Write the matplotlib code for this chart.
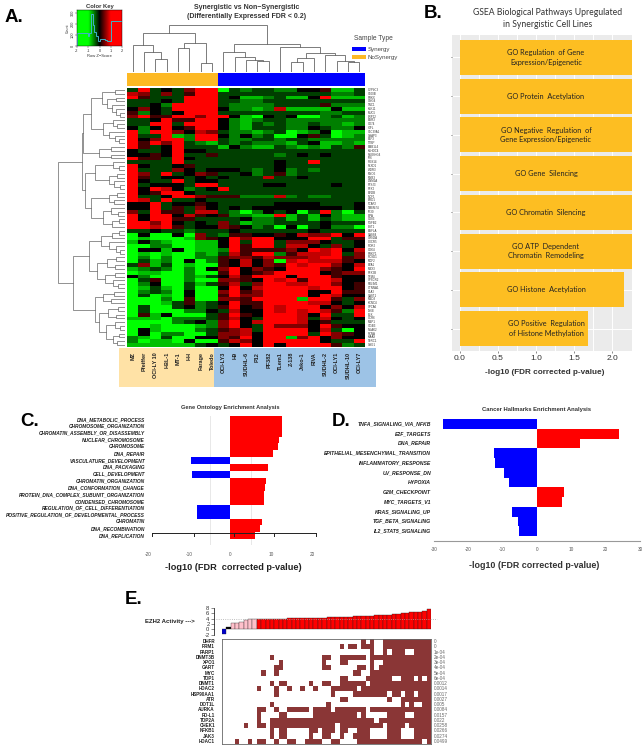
import numpy as np
import matplotlib
matplotlib.use("Agg")
import matplotlib.pyplot as plt
from matplotlib.colors import LinearSegmentedColormap, ListedColormap

matplotlib.rcParams.update({
    "font.family": ["Liberation Sans", "DejaVu Sans"],
    "font.size": 5,
    "axes.unicode_minus": False,
})

W, H = 644, 750

# --- panel A: heatmap, digits 0 (bright green) .. 4 (black) .. 8 (bright red)
hm_rows = [
    "38343688 0323322445113", "76363588 3333333333223", "85333888 3411231148111",
    "33343888 3322333333333", "33428888 3222233335222", "46438888 4221271111411",
    "52434888 3333333332233", "68558868 8410434002312", "33485588 4212332222222",
    "33883888 4213232232212", "42484588 4213332243224", "82886476 3221230124011",
    "83381288 4242300453012", "84688288 3223323322222", "85868321 3232221341121",
    "85348333 1421132121325", "43348443 3333333333333", "44548335 3333323434333",
    "85538433 3333333333333", "33338333 3333343383333", "84334533 3333343333333",
    "83336434 4432342323333", "86383465 3342352333333", "85344343 4333733433333",
    "84338344 3333333333333", "83444388 3333443333433", "84874234 8333333333333",
    "84588433 3333333333333", "83348865 5522272322333", "87383343 3333333333333",
    "44834454 3333344443334", "44835364 3434444444434", "63855377 3202434038203",
    "84884754 5221181314211", "84885533 3342231313211", "88684343 6312233334333",
    "88785344 6542304034220", "33433233 3433333343333",
    "04004063 2554454766848", "01000165 4868844488355", "14210011 4838836664334",
    "00220011 4858837743634", "04414011 2855556487847", "01010021 3758825777836",
    "02020022 5665766678856", "03120402 5474607877754", "36130100 5474658788647",
    "12320204 6846548886548", "01100200 5845688884566", "42000213 4758884888544",
    "03500200 6654878588744", "02400313 5736887788645", "01310300 4847888878845",
    "02320400 6856888844855", "03010400 5866888848744", "00020500 6658888188536",
    "00013523 4855888877434", "03003423 5845878884647", "03000224 3744878787528",
    "05140003 5854888748338", "11102223 5743888737434", "00002342 6847888745333",
    "00100012 6843866648544", "04100023 5673888847304", "04022003 6674888838654",
    "21030044 6584881684644", "20110400 5764888884338", "11111134 3484848888523",
]
gene_labels = [
    "CYP4C3", "S100B", "PRKX", "GNG4", "TNC1", "KLK11", "MUC5", "LRP12", "EGR3", "CD74",
    "IGFL", "SLC39A1", "GSAP3", "ELF3", "TTBP", "EMB1L4", "KLHDC4", "PLEKHG4", "IFI6", "RGS14",
    "PLXD1", "WDR3", "MYO5", "MYB3", "DNM1A", "FTSJ3", "PTK2", "EVI2B", "NCF1", "BRD1",
    "TCAF2", "TMEM74", "IFI30", "LIPA", "CD83", "TGFB2", "BST1", "EGFLA", "CASS4", "GRN2A",
    "CXCR5", "ROR2", "CDK4", "PRKY1", "RCSD1", "MCF2", "EYA1", "MEX3", "PTK2B", "TPM4",
    "SPSCR2", "PDLIM1", "CTNNA1", "SLA2", "CAST1", "MBD3", "KCNC4", "SPCA6", "LY6E", "BLK",
    "CCR6", "MBP1", "ITGB3", "NUAK2", "PCNA", "KIAA9", "TERC1", "GSG1",
]
nosyn_lines = ["MZ", "Pfeiffer", "OCI-LY 10", "HBL-1", "MT-1", "HH", "Farage", "Toledo"]
syn_lines = ["OCI-LY3", "H9", "SUDHL-6", "P12", "PF382", "TLem1", "Z-138", "Jeko-1", "RIVA",
             "SUDHL-2", "OCI-LY1", "SUDHL-10", "OCI-LY7"]

# dendrograms: (height, child, child), a leaf is 0
col_tree = (47,
            (39, (27, 0, (20, 0, (13, 0, 0))),
             (29, (24, 0, 0), (9, 0, 0))),
            (28, (20, 0, (15, 0, (12, 0, (11, 0, 0)))),
             (25, 0, (19, (14, (10, 0, 0), 0), (17, 0, (11, 0, (10, 0, 0)))))))
row_a = (23, (10, 0, 0), (18, (9, 0, 0), (13, 0, (9, 0, (5, 0, 0)))))
row_b = (22, (12, 0, (8, 0, 0)), (16, 0, (10, 0, (6, 0, 0))))
row_c = (26, (14, 0, 0), (14, 0, 0))
row_e = (30, (12, 0, (6, 0, 0)), (16, (8, 0, 0), (11, 0, (5, 0, 0))))
row_f = (34, (16, (8, 0, 0), (11, 0, 0)), (22, (14, 0, (7, 0, 0)), (13, (6, 0, 0), 0)))
row_g = (36, (24, (13, (6, 0, 0), 0), (16, 0, (9, 0, (5, 0, 0)))),
         (28, (18, (9, 0, 0), (10, 0, 0)), (20, (10, 0, 0), (12, 0, (7, 0, 0)))))
row_h = (30, (22, (11, 0, 0), (14, 0, 0)),
         (26, (17, (7, 0, 0), (9, 0, 0)), (19, (10, 0, (5, 0, 0)), (12, (6, 0, 0), (8, 0, 0)))))
row_tree = (67, (43, (42, (34, row_a, row_b), row_c), (40, row_e, row_f)), (52, row_g, row_h))

# colour key histogram
key_edges = [-2.0, -1.05, -0.95, -0.8, -0.72, -0.55, -0.45, -0.3, -0.15, 0.0, 0.25, 0.5, 0.7, 1.0, 2.0]
key_counts = [117, 95, 117, 290, 290, 190, 130, 90, 50, 60, 65, 55, 45, 230]

# --- panel B
gsea_terms = ["GO Regulation  of Gene\nExpression/Epigenetic", "GO Protein  Acetylation",
              "GO Negative  Regulation  of\nGene Expression/Epigenetic", "GO Gene  Silencing",
              "GO Chromatin  Silencing", "GO ATP  Dependent\nChromatin  Remodeling",
              "GO Histone  Acetylation", "GO Positive  Regulation\nof Histone Methylation"]
gsea_vals = [2.26, 2.26, 2.26, 2.26, 2.26, 2.26, 2.16, 1.68]

# --- panel C
go_terms = ["DNA_METABOLIC_PROCESS", "CHROMOSOME_ORGANIZATION", "CHROMATIN_ASSEMBLY_OR_DISASSEMBLY",
            "NUCLEAR_CHROMOSOME", "CHROMOSOME", "DNA_REPAIR", "VASCULATURE_DEVELOPMENT", "DNA_PACKAGING",
            "CELL_DEVELOPMENT", "CHROMATIN_ORGANIZATION", "DNA_CONFORMATION_CHANGE",
            "PROTEIN_DNA_COMPLEX_SUBUNIT_ORGANIZATION", "CONDENSED_CHROMOSOME",
            "REGULATION_OF_CELL_DIFFERENTIATION", "POSITIVE_REGULATION_OF_DEVELOPMENTAL_PROCESS",
            "CHROMATIN", "DNA_RECOMBINATION", "DNA_REPLICATION"]
go_vals = [12.8, 12.7, 12.6, 12.0, 11.6, 10.4, -9.4, 9.3, -9.2, 8.7, 8.5, 8.4, 8.4, -8.0, -8.0, 7.8, 7.4, 6.0]
go_stray_ticks = [-19, -8.9, 1.06, 10.8, 21]

# --- panel D
hallmark_terms = ["TNFA_SIGNALING_VIA_NFKB", "E2F_TARGETS", "DNA_REPAIR", "EPITHELIAL_MESENCHYMAL_TRANSITION",
                  "INFLAMMATORY_RESPONSE", "UV_RESPONSE_DN", "HYPOXIA", "G2M_CHECKPOINT", "MYC_TARGETS_V1",
                  "KRAS_SIGNALING_UP", "TGF_BETA_SIGNALING", "IL2_STAT5_SIGNALING"]
hallmark_vals = [-27.5, 24.0, 12.5, -12.6, -12.2, -9.5, -8.3, 7.8, 7.2, -7.3, -5.6, -5.2]

# --- panel E
ezh2_vals = [-1.8, 1.0, 2.2, 2.3, 2.9, 3.6, 3.8, 3.8,
             3.9, 3.9, 3.9, 4.0, 4.0, 4.0, 4.0, 4.1, 4.1, 4.1, 4.1, 4.2, 4.2, 4.2, 4.3, 4.3,
             4.4, 4.4, 4.5, 4.5, 4.6, 4.7, 4.8, 4.8, 4.9, 5.0, 5.1, 5.2, 5.3, 5.4, 5.5, 5.6,
             5.7, 5.9, 6.2, 6.3, 6.4, 6.6, 7.0, 7.4]
ezh2_colors = ["#0000CC", "#000000"] + ["#FFC0CB"] * 6 + ["#FF0000"] * 40
drug_genes = ["DHFR", "RRM1", "PARP1", "DNMT3B", "XPO1", "GART", "MYC", "TOP1", "DNMT1", "HDAC2", "HSP90AA1",
              "ATR", "DOT1L", "AURKA", "PD-L1", "TOP2A", "CHEK1", "NFKB1", "JAK3", "HDAC1"]
drug_pvals = ["0", "0", "1e-04", "2e-04", "3e-04", "4e-04", "5e-04", "6e-04", "0.0012", "0.0014", "0.0017",
              "0.0027", "0.005", "0.0084", "0.0157", "0.022", "0.0258", "0.0266", "0.0274", "0.0499"]
# filled column ranges per gene row
drug_cells = [
    [(32, 32), (34, 34), (37, 47)],
    [(27, 27), (29, 30), (32, 34), (37, 47)],
    [(34, 34), (37, 37), (39, 41), (44, 47)],
    [(11, 11), (23, 24), (27, 32), (34, 47)],
    [(13, 13), (23, 23), (27, 28), (34, 34), (37, 47)],
    [(12, 13), (23, 24), (31, 32), (34, 34), (36, 47)],
    [(9, 9), (12, 12), (30, 31), (34, 47)],
    [(27, 28), (33, 38), (41, 43), (45, 45), (47, 47)],
    [(11, 11), (13, 14), (20, 20), (23, 24), (27, 32), (34, 47)],
    [(8, 8), (12, 12), (15, 15), (18, 18), (21, 21), (25, 30), (32, 47)],
    [(12, 12), (25, 25), (30, 37), (39, 40), (42, 43), (45, 47)],
    [(27, 28), (38, 38), (41, 47)],
    [(11, 11), (24, 24), (41, 41), (43, 43), (46, 47)],
    [(8, 9), (12, 12), (15, 19), (21, 24), (26, 32), (34, 47)],
    [(8, 8), (13, 14), (21, 30), (32, 32), (38, 41), (44, 47)],
    [(8, 8), (11, 34), (36, 47)],
    [(5, 5), (8, 9), (11, 25), (27, 36), (38, 41), (43, 47)],
    [(11, 11), (13, 14), (20, 21), (23, 25), (27, 28), (31, 33), (38, 40), (44, 47)],
    [(11, 11), (13, 14), (20, 20), (23, 24), (27, 27), (30, 33), (38, 40), (44, 47)],
    [(3, 3), (6, 6), (8, 9), (12, 12), (15, 16), (19, 22), (25, 26), (31, 45), (47, 47)],
]


def px_axes(l, t, r, b):
    return fig.add_axes([l / W, 1 - b / H, (r - l) / W, (b - t) / H])


def draw_tree(ax, node, leaf, vertical):
    # leaf is a one-item list used as a running leaf counter
    if node == 0:
        leaf[0] += 1
        return leaf[0] - 0.5, 0
    h, a, b = node
    pa, ha = draw_tree(ax, a, leaf, vertical)
    pb, hb = draw_tree(ax, b, leaf, vertical)
    xs, ys = [pa, pa, pb, pb], [ha, h, h, hb]
    if vertical:
        ax.plot(xs, ys, color="#666666", lw=0.6, solid_joinstyle="miter")
    else:
        ax.plot(ys, xs, color="#666666", lw=0.5, solid_joinstyle="miter")
    return (pa + pb) / 2, h


fig = plt.figure(figsize=(W / 100, H / 100), dpi=100, facecolor="white")

# page overlay in pixel coordinates, for backgrounds and loose text
pg = fig.add_axes([0, 0, 1, 1], zorder=0)
pg.set_xlim(0, W)
pg.set_ylim(H, 0)
pg.axis("off")

for letter, lx, ly in [("A.", 5, 17), ("B.", 424, 14), ("C.", 20, 421), ("D.", 332, 421), ("E.", 125, 599)]:
    pg.text(lx, ly, letter, fontsize=13.5, fontweight="bold", va="center", color="black",
            family=["Liberation Sans"])

# --- A
grid = np.array([[int(c) for c in row.replace(" ", "")] for row in hm_rows])
gr_cmap = LinearSegmentedColormap.from_list("gkr", ["#00FF00", "#000000", "#FF0000"])
ax = px_axes(127, 88, 365, 347)
ax.imshow((grid - 4) / 4.0, cmap=gr_cmap, vmin=-1, vmax=1, aspect="auto", interpolation="nearest")
ax.axis("off")

ax = px_axes(127, 73, 365, 86)
ax.imshow([[0] * len(nosyn_lines) + [1] * len(syn_lines)], cmap=ListedColormap(["#FDB924", "#0000FF"]),
          aspect="auto", interpolation="nearest")
ax.axis("off")

ax = px_axes(127, 22, 365, 72)
draw_tree(ax, col_tree, [0], True)
ax.set_xlim(0, grid.shape[1])
ax.set_ylim(0, 50)
ax.axis("off")

ax = px_axes(58, 88, 125, 347)
draw_tree(ax, row_tree, [0], False)
ax.set_xlim(67, 0)
ax.set_ylim(grid.shape[0], 0)
ax.axis("off")

row_h_px = 259 / len(gene_labels)
for i, g in enumerate(gene_labels):
    pg.text(368, 88 + (i + 0.5) * row_h_px, g, fontsize=2.1, va="center", color="#333333")

pg.fill_between([119, 214], 348, 387, color="#FFE2A6", lw=0)
pg.fill_between([214, 376], 348, 387, color="#9DC3E6", lw=0)
col_w = 238 / grid.shape[1]
for i, name in enumerate(nosyn_lines + syn_lines):
    pg.text(127 + (i + 0.5) * col_w, 352, name, rotation=90, fontsize=4, fontweight="bold",
            ha="center", va="top", color="#222222")

pg.text(247, 12, "Synergistic vs Non\u2212Synergistic\n(Differentially Expressed FDR < 0.2)",
        fontsize=5.0, fontweight="bold", ha="center", va="center", color="#333333", linespacing=1.25)
pg.text(373, 39, "Sample Type", fontsize=4.8, ha="center", va="center", color="#444444")
pg.fill_between([352, 366], 47, 51, color="#0000FF", lw=0)
pg.fill_between([352, 366], 55, 59, color="#FDB924", lw=0)
pg.text(368, 49, "Synergy", fontsize=4.4, va="center", color="#444444")
pg.text(368, 57, "NoSynergy", fontsize=4.4, va="center", color="#444444")

# colour key
ax = px_axes(77, 10, 122, 46)
ax.imshow(np.linspace(-1, 1, 200).reshape(1, -1) * 2, cmap=gr_cmap, vmin=-1, vmax=1, aspect="auto",
          extent=[-2, 2, 0, 330], interpolation="bilinear")
ax.stairs(key_counts, key_edges, color="#3FB3C8", lw=0.7)
ax.set_xlim(-2, 2)
ax.set_ylim(0, 330)
ax.set_xticks([-2, -1, 0, 1, 2])
ax.set_yticks([0, 100, 200, 300])
ax.tick_params(labelsize=2.8, length=1.2, width=0.3, pad=0.6, colors="#333333")
plt.setp(ax.get_yticklabels(), rotation=90, va="center")
for s in ax.spines.values():
    s.set_linewidth(0.3)
ax.set_xlabel("Row Z\u2212Score", fontsize=3, labelpad=0.8, color="#333333")
ax.set_ylabel("Count", fontsize=2.6, labelpad=0.8, color="#333333")
ax.set_title("Color Key", fontsize=4.2, fontweight="bold", pad=1.6, color="#333333")

# --- B
ax = px_axes(452, 35, 632, 351)
ax.set_facecolor("#EBEBEB")
yb = np.arange(len(gsea_vals))
ax.barh(yb, gsea_vals, height=0.9, color="#FDBE22", zorder=3)
ax.set_xlim(-0.105, 2.26)
ax.set_ylim(len(gsea_vals) - 0.42, -0.58)
ax.set_xticks([0, 0.5, 1.0, 1.5, 2.0])
ax.set_xticklabels(["0.0", "0.5", "1.0", "1.5", "2.0"])
ax.set_xticks([0.25, 0.75, 1.25, 1.75], minor=True)
ax.set_yticks(yb)
ax.set_yticklabels([])
ax.grid(True, which="both", color="white", lw=0.7, zorder=1)
ax.tick_params(axis="x", which="major", labelsize=6, length=1.2, width=0.4, pad=1.5, colors="#333333")
ax.tick_params(axis="x", which="minor", length=0)
ax.tick_params(axis="y", length=1, width=0.4)
for s in ax.spines.values():
    s.set_visible(False)
for i, term in enumerate(gsea_terms):
    ax.text(1.13, i, term, ha="center", va="center", fontsize=5.3, color="#222222", zorder=4,
            family=["Lato"], linespacing=1.45)
pg.text(548, 18.5, "GSEA Biological Pathways Upregulated\nin Synergistic Cell Lines", fontsize=6.2,
        ha="center", va="center", color="#333333", family=["Lato"], linespacing=1.35)
pg.text(545, 373, "-log10 (FDR corrected p-value)", fontsize=5.9, fontweight="bold", ha="center",
        va="center", color="#333333")

# --- C
ax = px_axes(148, 416, 312, 545)
row_c_h = 123 / len(go_vals)
ax.barh(np.arange(len(go_vals)), go_vals, height=1.0, zorder=2,
        color=["#FF0000" if v > 0 else "#0000FF" for v in go_vals])
ax.set_xlim(-20, 20)
ax.set_ylim(129 / row_c_h - 0.5, -0.5)
ax.set_xticks([-20, -10, 0, 10, 20])
ax.set_xticks([-5, 5], minor=True)
ax.grid(True, axis="x", which="minor", color="#E8E8E8", lw=0.7, zorder=1)
ax.tick_params(axis="x", which="minor", length=0)
ax.tick_params(axis="x", which="major", labelsize=3.4, length=0, pad=5, colors="#555555")
ax.set_yticks([])
for s in ax.spines.values():
    s.set_visible(False)
ax.plot([go_stray_ticks[0], go_stray_ticks[-1]], [16.55, 16.55], color="#222222", lw=0.7, zorder=4, clip_on=False)
for t in go_stray_ticks:
    ax.plot([t, t], [16.55, 17.1], color="#222222", lw=0.7, zorder=4, clip_on=False)
for i, term in enumerate(go_terms):
    pg.text(145, 416 + (i + 0.5) * row_c_h, term, ha="right", va="center", fontsize=3.55,
            fontweight="bold", style="italic", color="#222222")
pg.text(230, 407, "Gene Ontology Enrichment Analysis", fontsize=4.1, fontweight="bold", ha="center",
        va="center", color="#333333")
pg.text(233, 567, "-log10 (FDR  corrected p-value)", fontsize=6.6, fontweight="bold", ha="center",
        va="center", color="#222222")

# --- D
ax = px_axes(434, 419, 640, 541)
ax.barh(np.arange(len(hallmark_vals)), hallmark_vals, height=1.0, zorder=2,
        color=["#FF0000" if v > 0 else "#0000FF" for v in hallmark_vals])
ax.set_xlim(-30, 30)
row_d_h = 117 / len(hallmark_vals)
ax.set_ylim(122 / row_d_h - 0.5, -0.5)
ax.set_xticks([-30, -20, -10, 0, 10, 20, 30])
ax.tick_params(axis="x", labelsize=3.4, length=0, pad=4.5, colors="#555555")
ax.set_yticks([])
for side in ["top", "left", "right"]:
    ax.spines[side].set_visible(False)
ax.spines["bottom"].set_color("#999999")
ax.spines["bottom"].set_linewidth(0.8)
for i, term in enumerate(hallmark_terms):
    pg.text(431, 419 + (i + 0.5) * row_d_h, term, ha="right", va="center", fontsize=3.7,
            fontweight="bold", style="italic", color="#222222")
pg.text(537, 410, "Cancer Hallmarks Enrichment Analysis", fontsize=4.2, fontweight="bold", ha="center",
        va="center", color="#333333")
pg.text(534, 565, "-log10 (FDR corrected p-value)", fontsize=6.4, fontweight="bold", ha="center",
        va="center", color="#333333")

# --- E
ax = px_axes(222, 606, 431, 637)
ax.bar(np.arange(len(ezh2_vals)), ezh2_vals, width=1.0, color=ezh2_colors, edgecolor="#222222", linewidth=0.25,
       zorder=2)
ax.axhline(4, color="#AAAAAA", lw=0.6, ls=":", zorder=3, xmin=-0.03, xmax=1.03, clip_on=False)
ax.set_xlim(-0.5, len(ezh2_vals) - 0.5)
ax.set_ylim(-2.9, 8.7)
ax.set_xticks([])
ax.set_yticks([-2, 0, 2, 4, 6, 8])
ax.tick_params(axis="y", labelsize=4.2, length=2, width=0.4, pad=1, colors="#333333")
for side in ["top", "bottom", "right"]:
    ax.spines[side].set_visible(False)
ax.spines["left"].set_position(("outward", 6))
ax.spines["left"].set_bounds(-2, 8)
ax.spines["left"].set_linewidth(0.5)
pg.text(145, 622, "EZH2 Activity --->", fontsize=4.3, fontweight="bold", va="center", color="#222222")

n_cols = len(ezh2_vals)
cells = np.zeros((len(drug_genes), n_cols))
for i, spans in enumerate(drug_cells):
    for a, b in spans:
        cells[i, a:b + 1] = 1
ax = px_axes(222, 639, 431, 744)
ax.imshow(cells, cmap=ListedColormap(["white", "#8A3636"]), vmin=0, vmax=1, aspect="auto", interpolation="nearest")
ax.set_xticks([])
ax.set_yticks([])
for s in ax.spines.values():
    s.set_color("#666666")
    s.set_linewidth(0.6)
row_e_h = 105 / len(drug_genes)
for i, (gene, p) in enumerate(zip(drug_genes, drug_pvals)):
    y = 639 + (i + 0.5) * row_e_h
    pg.text(215, y, gene, ha="right", va="center", fontsize=3.3, fontweight="bold", color="#222222")
    pg.text(434, y, p, ha="left", va="center", fontsize=3.3, color="#666666")

fig.savefig("out.png", dpi=100, facecolor="white")
